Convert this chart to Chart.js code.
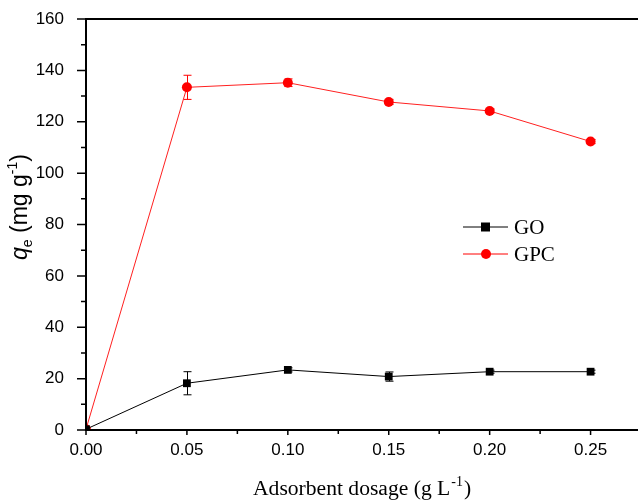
<!DOCTYPE html>
<html>
<head>
<meta charset="utf-8">
<script src="https://cdn.jsdelivr.net/npm/chart.js"></script>
<style>
  body { margin: 0; background: #fff; }
  canvas { display: block; }
</style>
</head>
<body>
<canvas id="myChart" width="638" height="500"></canvas>
<script>
// dávka adsorbentu (g/L)
const dosage = [0, 0.05, 0.10, 0.15, 0.20, 0.25];
// qe (mg/g) a chyby
const goValues = [0.3, 18.2, 23.4, 20.8, 22.7, 22.7];
const goErrors = [0, 4.5, 0.8, 1.8, 0.6, 0.6];
const gpcValues = [0.3, 133.4, 135.2, 127.7, 124.2, 112.3];
const gpcErrors = [0, 4.7, 1.5, 1.0, 0.8, 0.8];

const xTicks = [0, 0.05, 0.10, 0.15, 0.20, 0.25];
const xMinorTicks = [0.025, 0.075, 0.125, 0.175, 0.225];
const yTicks = [0, 20, 40, 60, 80, 100, 120, 140, 160];
const yMinorTicks = [10, 30, 50, 70, 90, 110, 130, 150];

const sans = '"Liberation Sans", Arial, sans-serif';
const serif = '"Liberation Serif", "Times New Roman", serif';

function toPoints(xs, ys) {
    return xs.map((x, i) => ({ x: x, y: ys[i] }));
}

// chybové úsečky
const errorBars = {
    id: 'errorBars',
    beforeDatasetsDraw(chart) {
        const ctx = chart.ctx;
        const xs = chart.scales.x, ys = chart.scales.y;
        const sets = [[goValues, goErrors, '#000'], [gpcValues, gpcErrors, '#ff0000']];
        ctx.save();
        ctx.lineWidth = 1;
        sets.forEach(([vals, errs, color]) => {
            ctx.strokeStyle = color;
            dosage.forEach((d, i) => {
                if (!errs[i]) return;
                const px = Math.round(xs.getPixelForValue(d)) + 0.5;
                const top = ys.getPixelForValue(vals[i] + errs[i]);
                const bot = ys.getPixelForValue(vals[i] - errs[i]);
                ctx.beginPath();
                ctx.moveTo(px, top); ctx.lineTo(px, bot);
                ctx.moveTo(px - 4, top); ctx.lineTo(px + 4, top);
                ctx.moveTo(px - 4, bot); ctx.lineTo(px + 4, bot);
                ctx.stroke();
            });
        });
        ctx.restore();
    }
};

// osy, značky, popisky os a legenda
const frame = {
    id: 'frame',
    afterDraw(chart) {
        const ctx = chart.ctx;
        const a = chart.chartArea;
        const xs = chart.scales.x, ys = chart.scales.y;
        ctx.save();
        ctx.strokeStyle = '#000';
        ctx.lineWidth = 2;
        ctx.beginPath();
        ctx.moveTo(a.left, a.bottom); ctx.lineTo(a.left, a.top);
        ctx.lineTo(a.right, a.top);
        ctx.moveTo(a.left - 1, a.bottom); ctx.lineTo(a.right, a.bottom);
        ctx.stroke();

        ctx.lineWidth = 1.5;
        ctx.beginPath();
        yTicks.forEach(v => { const p = ys.getPixelForValue(v); ctx.moveTo(a.left - 9, p); ctx.lineTo(a.left, p); });
        yMinorTicks.forEach(v => { const p = ys.getPixelForValue(v); ctx.moveTo(a.left - 5, p); ctx.lineTo(a.left, p); });
        xTicks.forEach(v => { const p = xs.getPixelForValue(v); ctx.moveTo(p, a.bottom); ctx.lineTo(p, a.bottom + 5); });
        xMinorTicks.forEach(v => { const p = xs.getPixelForValue(v); ctx.moveTo(p, a.bottom); ctx.lineTo(p, a.bottom + 4); });
        ctx.stroke();

        // popisek osy x
        ctx.fillStyle = '#000';
        ctx.textBaseline = 'alphabetic';
        ctx.textAlign = 'left';
        const big = '21.6px ' + serif, small = '14px ' + serif;
        ctx.font = big;
        const t1 = 'Adsorbent dosage (g L';
        const w1 = ctx.measureText(t1).width;
        ctx.font = small;
        const w2 = ctx.measureText('-1').width;
        const x0 = 253;
        const base = 495;
        ctx.font = big; ctx.fillText(t1, x0, base);
        ctx.font = small; ctx.fillText('-1', x0 + w1 + 1, base - 9);
        ctx.font = big; ctx.fillText(')', x0 + w1 + w2 + 2, base);

        // popisek osy y
        ctx.translate(27, 207);
        ctx.rotate(-Math.PI / 2);
        const yb = '23px ' + sans, yq = 'italic 23px ' + sans, ys2 = '14px ' + sans;
        const parts = [['q', yq, 0], ['e', ys2, 5], [' (mg g', yb, 0], ['-1', ys2, -10], [')', yb, 0]];
        let total = 0;
        parts.forEach(p => { ctx.font = p[1]; total += ctx.measureText(p[0]).width; });
        let cx = -total / 2;
        parts.forEach(p => { ctx.font = p[1]; ctx.fillText(p[0], cx, p[2]); cx += ctx.measureText(p[0]).width; });
        ctx.restore();

        // legenda
        ctx.save();
        const rows = [['GO', '#000', 'rect', 227], ['GPC', '#ff0000', 'circle', 254]];
        rows.forEach(([label, color, shape, y]) => {
            ctx.strokeStyle = color; ctx.fillStyle = color; ctx.lineWidth = 1;
            ctx.beginPath(); ctx.moveTo(463, y); ctx.lineTo(508, y); ctx.stroke();
            ctx.beginPath();
            if (shape === 'rect') ctx.rect(481, y - 4.5, 9, 9);
            else ctx.arc(486, y, 5, 0, Math.PI * 2);
            ctx.fill();
            ctx.fillStyle = '#000';
            ctx.font = '21px ' + serif;
            ctx.textBaseline = 'middle';
            ctx.fillText(label, 514, y + 1);
        });
        ctx.restore();
    }
};

// bez automatického odsazení kvůli popiskům
function noPad(s) {
    s.paddingLeft = 0; s.paddingRight = 0;
    s.paddingTop = 0; s.paddingBottom = 0;
}

var ctx = document.getElementById('myChart').getContext('2d');
var myChart = new Chart(ctx, {
    type: 'line',
    data: {
        datasets: [{
            label: 'GO',
            data: toPoints(dosage, goValues),
            borderColor: '#000',
            backgroundColor: '#000',
            borderWidth: 1,
            pointStyle: 'rect',
            pointRadius: 5.5,
            pointBorderWidth: 0
        }, {
            label: 'GPC',
            data: toPoints(dosage, gpcValues),
            borderColor: '#ff2020',
            backgroundColor: '#ff0000',
            borderWidth: 1,
            pointStyle: 'circle',
            pointRadius: 5,
            pointBorderWidth: 0
        }]
    },
    options: {
        responsive: false,
        animation: false,
        layout: { autoPadding: false, padding: { top: 19, right: 0, left: 0, bottom: 0 } },
        plugins: { legend: { display: false }, tooltip: { enabled: false } },
        scales: {
            x: {
                type: 'linear',
                min: 0,
                max: 0.2735,
                grid: { display: false },
                border: { display: false },
                afterBuildTicks: s => { s.ticks = xTicks.map(v => ({ value: v })); },
                afterFit: s => { s.height = 70; noPad(s); },
                ticks: {
                    color: '#000',
                    font: { family: sans, size: 17 },
                    padding: 2,
                    maxRotation: 0,
                    callback: v => v.toFixed(2)
                }
            },
            y: {
                min: 0,
                max: 160,
                grid: { display: false },
                border: { display: false },
                afterBuildTicks: s => { s.ticks = yTicks.map(v => ({ value: v })); },
                afterFit: s => { s.width = 86; noPad(s); },
                ticks: {
                    color: '#000',
                    font: { family: sans, size: 17 },
                    padding: 14
                }
            }
        }
    },
    plugins: [errorBars, frame]
});
</script>
</body>
</html>
